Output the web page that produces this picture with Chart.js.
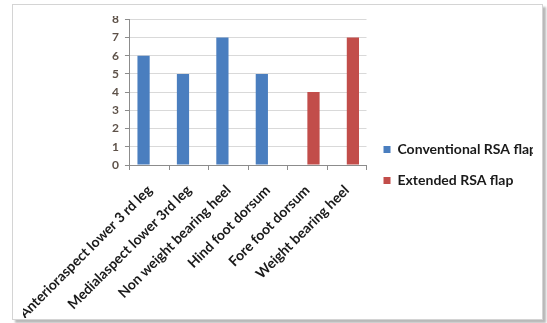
<!DOCTYPE html>
<html>
<head>
<meta charset="utf-8">
<script src="https://cdn.jsdelivr.net/npm/chart.js@4"></script>
<style>
  html, body { margin: 0; padding: 0; background: #ffffff; }
  body { width: 547px; height: 323px; position: relative; overflow: hidden; }
  #frame {
    position: absolute; left: 12px; top: 4px; width: 529px; height: 314px;
    border: 1px solid #d4d4d4; background: #fff;
    box-shadow: 3px 3px 2px #b9b9b9;
  }
  /* inner drawing area; content outside it is cut off */
  #clip { position: absolute; left: 10px; top: 11px; width: 510px; height: 302px; overflow: hidden; }
  canvas { position: absolute; left: -10px; top: -10px; }
</style>
</head>
<body>
<div id="frame"><div id="clip"><canvas id="c" width="560" height="322"></canvas></div></div>
<script>
const categories = [
  'Anterioraspect lower 3 rd leg',
  'Medialaspect lower 3rd leg',
  'Non weight bearing heel',
  'Hind foot dorsum',
  'Fore foot dorsum',
  'Weight bearing heel'
];
const conventionalRSA = [6, 5, 7, 5, null, null];
const extendedRSA = [null, null, null, null, 4, 7];
const yTicks = [0, 1, 2, 3, 4, 5, 6, 7, 8];

const textFont = { family: 'Lato', size: 14, weight: 'bold' };

new Chart(document.getElementById('c'), {
  type: 'bar',
  data: {
    labels: categories,
    datasets: [
      { label: 'Conventional RSA flap', data: conventionalRSA, backgroundColor: '#4a7ebf' },
      { label: 'Extended RSA flap', data: extendedRSA, backgroundColor: '#c24d4a' }
    ]
  },
  options: {
    responsive: false,
    animation: false,
    devicePixelRatio: 1,
    layout: { padding: { left: 93, top: 0, right: 26, bottom: 4 } },
    datasets: { bar: { categoryPercentage: 0.62, barPercentage: 1 } },
    plugins: {
      tooltip: { enabled: false },
      legend: {
        position: 'right',
        maxWidth: 240,
        labels: {
          boxWidth: 7, boxHeight: 7, padding: 17,
          color: '#1a1a1a', font: textFont
        }
      }
    },
    scales: {
      x: {
        grid: { offset: true, drawOnChartArea: false, tickLength: 5, color: '#8c8c8c' },
        border: { color: '#8c8c8c' },
        ticks: {
          autoSkip: false, minRotation: 45, maxRotation: 45,
          color: '#1a1a1a', font: textFont, padding: 12
        },
        afterFit(scale) { scale.paddingLeft = 0; scale.paddingRight = 0; }
      },
      y: {
        min: 0, max: 8,
        afterBuildTicks(scale) { scale.ticks = yTicks.map(v => ({ value: v })); },
        grid: { color: '#d9d9d9', tickLength: 5, tickColor: '#8c8c8c' },
        border: { color: '#8c8c8c' },
        ticks: { color: '#5e5249', font: { family: 'Lato', size: 12, weight: 'bold' }, padding: 6 }
      }
    }
  }
});
</script>
</body>
</html>
